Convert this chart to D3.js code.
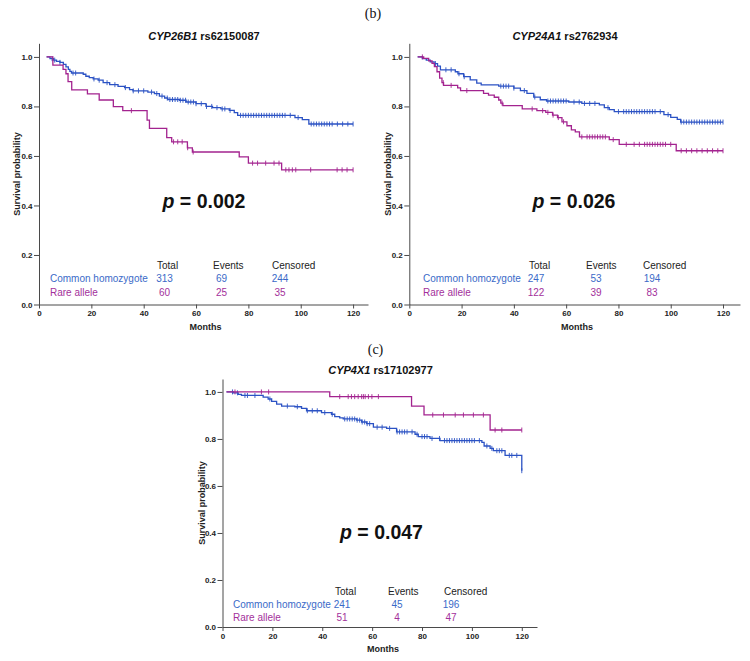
<!DOCTYPE html>
<html>
<head>
<meta charset="utf-8">
<script src="https://cdn.jsdelivr.net/npm/d3@7"></script>
<style>
  html, body { margin: 0; padding: 0; background: #ffffff; }
  svg { display: block; font-family: "Liberation Sans", Arial, sans-serif; }
</style>
</head>
<body>
<svg id="chart" width="750" height="661"></svg>
<script>
// ---------------- DATA ----------------
const groups = ["Common homozygote", "Rare allele"];
const tableHeaders = ["Total", "Events", "Censored"];
const xTicks = [0, 20, 40, 60, 80, 100, 120];
const yTicks = [0, 0.2, 0.4, 0.6, 0.8, 1.0];
const yTickLabels = ["0.0", "0.2", "0.4", "0.6", "0.8", "1.0"];
const panelLabels = ["(b)", "(c)"];

const chartGenes = ["CYP26B1", "CYP24A1", "CYP4X1"];
const chartSnps = ["rs62150087", "rs2762934", "rs17102977"];
const chartPValues = ["0.002", "0.026", "0.047"];

// CYP26B1 rs62150087
const cyp26b1CommonCounts = [313, 69, 244];
const cyp26b1RareCounts = [60, 25, 35];
const cyp26b1CommonTimes = [2.9, 4.2, 5.5, 6.7, 8.0, 9.3, 10.3, 11.2, 11.8, 12.4, 16.9, 17.9, 19.2, 20.7, 22.6, 24.5, 27.0, 30.2, 32.7, 34.6, 35.9, 41.6, 44.1, 46.0, 48.0, 49.2, 53.7, 56.2, 60.0, 63.8, 66.3, 69.5, 72.7, 74.6, 75.9, 97.8, 100.6, 103.1];
const cyp26b1CommonSurv  = [1.0, 0.993, 0.987, 0.982, 0.978, 0.970, 0.960, 0.950, 0.942, 0.935, 0.930, 0.922, 0.916, 0.911, 0.906, 0.896, 0.888, 0.881, 0.876, 0.868, 0.863, 0.858, 0.852, 0.842, 0.834, 0.828, 0.825, 0.818, 0.811, 0.800, 0.795, 0.790, 0.784, 0.775, 0.764, 0.755, 0.747, 0.729];
const cyp26b1CommonCensor = [5, 6, 8, 13, 14, 21, 23, 26, 29, 33, 36, 38, 40, 43, 45, 47, 49, 50, 51, 52, 53, 54, 55, 56, 57, 58, 59, 60, 62, 64, 66, 68, 70, 71, 73, 77, 78, 79, 80, 81, 82, 83, 84, 85, 86, 87, 88, 89, 90, 91, 92, 93, 94, 96, 99, 104, 105, 106, 107, 108, 109, 110, 111, 112, 114, 116, 118, 120];
const cyp26b1RareTimes = [2.9, 5.3, 9.2, 10.3, 11.1, 12.5, 18.5, 23.0, 28.4, 32.0, 41.3, 42.2, 48.8, 50.7, 56.7, 58.6, 76.5, 80.0, 92.7];
const cyp26b1RareSurv  = [1.0, 0.967, 0.950, 0.932, 0.900, 0.867, 0.851, 0.826, 0.799, 0.783, 0.745, 0.711, 0.674, 0.657, 0.633, 0.616, 0.596, 0.571, 0.544];
const cyp26b1RareCensor = [35.3, 51.4, 53.0, 54.7, 56.8, 58.9, 81.6, 83.5, 86.6, 89.8, 91.7, 94.3, 95.5, 96.8, 98.1, 103.8, 113.9, 115.8, 117.7, 120];

// CYP24A1 rs2762934
const cyp24a1CommonCounts = [247, 53, 194];
const cyp24a1RareCounts = [122, 39, 83];
const cyp24a1CommonTimes = [3.2, 5.0, 6.5, 8.0, 9.5, 10.8, 11.9, 17.6, 18.6, 20.8, 23.3, 25.8, 27.5, 34.2, 40.0, 42.5, 45.0, 47.6, 50.1, 52.5, 61.0, 66.0, 72.7, 74.6, 76.5, 78.4, 97.4, 100.0, 102.5, 103.8];
const cyp24a1CommonSurv  = [1.0, 0.993, 0.987, 0.980, 0.973, 0.963, 0.948, 0.940, 0.932, 0.920, 0.907, 0.894, 0.887, 0.882, 0.874, 0.864, 0.853, 0.838, 0.827, 0.822, 0.818, 0.812, 0.806, 0.795, 0.787, 0.779, 0.767, 0.756, 0.748, 0.737];
const cyp24a1CommonCensor = [10, 14, 16, 19, 21, 35, 36, 37, 38, 40, 44, 48, 53, 54, 55, 56, 57, 58, 59, 60, 63, 65, 67, 69, 71, 76, 80, 82, 83, 84, 85, 86, 87, 88, 89, 90, 91, 92, 93, 94, 96, 99, 104, 105, 106, 107, 108, 109, 110, 111, 112, 113, 114, 115, 116, 117, 118, 119, 120];
const cyp24a1RareTimes = [3.2, 5.5, 7.4, 8.7, 9.6, 10.6, 11.6, 12.5, 13.1, 18.5, 19.6, 28.4, 30.3, 32.5, 34.2, 35.0, 35.8, 43.2, 48.8, 52.2, 54.8, 56.7, 58.4, 60.3, 62.0, 63.5, 65.1, 76.5, 80.3, 102.1];
const cyp24a1RareSurv  = [1.0, 0.994, 0.984, 0.974, 0.961, 0.940, 0.914, 0.896, 0.885, 0.875, 0.864, 0.853, 0.846, 0.837, 0.826, 0.813, 0.803, 0.790, 0.783, 0.776, 0.765, 0.755, 0.738, 0.722, 0.705, 0.697, 0.677, 0.666, 0.647, 0.621];
const cyp24a1RareCensor = [5, 13, 16, 22, 35.5, 47, 51, 53, 55, 57, 59, 66, 68, 69, 70, 71, 72, 73, 74, 75, 78, 83, 86, 88, 90, 91, 92, 93, 94, 95, 96, 97, 98, 100, 104, 106, 108, 110, 112, 114, 116, 118, 120];

// CYP4X1 rs17102977
const cyp4x1CommonCounts = [241, 45, 196];
const cyp4x1RareCounts = [51, 4, 47];
const cyp4x1CommonTimes = [1.6, 4.3, 6.3, 7.6, 16.3, 18.3, 19.7, 21.7, 23.7, 29.0, 31.7, 33.7, 39.7, 43.7, 45.0, 47.0, 48.4, 53.8, 55.8, 57.8, 60.5, 65.8, 69.8, 77.2, 78.5, 83.2, 87.2, 104.0, 104.9, 107.3, 108.6, 113.3, 120.0];
const cyp4x1CommonSurv  = [1.0, 0.996, 0.990, 0.985, 0.978, 0.970, 0.960, 0.948, 0.940, 0.937, 0.930, 0.920, 0.912, 0.905, 0.895, 0.890, 0.885, 0.880, 0.872, 0.865, 0.850, 0.845, 0.830, 0.820, 0.810, 0.802, 0.793, 0.785, 0.770, 0.760, 0.750, 0.730, 0.665];
const cyp4x1CommonCensor = [4, 6, 9, 10, 13, 19, 26, 30, 34, 36, 38, 41, 44, 49, 50, 51, 52, 53, 54, 55, 56, 57, 58, 59, 62, 64, 67, 70, 71, 72, 73, 74, 76, 78, 80, 81, 82, 84, 87, 89, 90, 91, 92, 93, 94, 95, 96, 97, 98, 99, 100, 101, 103, 106, 108, 110, 111, 112, 115, 116, 118, 120];
const cyp4x1RareTimes = [1.6, 43.0, 75.8, 80.8, 107.3];
const cyp4x1RareSurv  = [1.0, 0.980, 0.940, 0.902, 0.838];
const cyp4x1RareCensor = [5, 15.6, 18.5, 47, 50.4, 51.7, 53, 54.4, 55.8, 56.5, 57.2, 58.5, 59.9, 62.5, 84.3, 88.6, 93.3, 96.6, 100.6, 104.6, 109.3, 112, 120];

// ---------------- STYLE / LAYOUT ----------------
const lineColors = ["#2b52c4", "#a3238f"];
const textColors = ["#3a6ac8", "#a3309b"];
const axisColor = "#4a4a4a";

const charts = [
  { gene: 0, counts: [cyp26b1CommonCounts, cyp26b1RareCounts],
    series: [[cyp26b1CommonTimes, cyp26b1CommonSurv, cyp26b1CommonCensor], [cyp26b1RareTimes, cyp26b1RareSurv, cyp26b1RareCensor]],
    x0: 39, x1: 368, xMax: 125.7, y0: 304.5, y1: 43.3, yMax: 1.055,
    titleX: 204, titleY: 40, pX: 204, pY: 208, monthsX: 205.5, monthsY: 330,
    ylabX: 20, ylabY: 174,
    tLabel: 50, tHdr: [157, 213, 272], tNum: [164.5, 221.5, 280], tY: [269, 282, 295.5] },
  { gene: 1, counts: [cyp24a1CommonCounts, cyp24a1RareCounts],
    series: [[cyp24a1CommonTimes, cyp24a1CommonSurv, cyp24a1CommonCensor], [cyp24a1RareTimes, cyp24a1RareSurv, cyp24a1RareCensor]],
    x0: 409.3, x1: 740, xMax: 126.5, y0: 304.5, y1: 43.3, yMax: 1.055,
    titleX: 565, titleY: 40, pX: 574, pY: 208, monthsX: 577, monthsY: 330,
    ylabX: 391, ylabY: 174,
    tLabel: 423, tHdr: [529, 586, 643], tNum: [536, 596, 652], tY: [269, 282, 295.5] },
  { gene: 2, counts: [cyp4x1CommonCounts, cyp4x1RareCounts],
    series: [[cyp4x1CommonTimes, cyp4x1CommonSurv, cyp4x1CommonCensor], [cyp4x1RareTimes, cyp4x1RareSurv, cyp4x1RareCensor]],
    x0: 222.5, x1: 537, xMax: 126.1, y0: 627, y1: 379, yMax: 1.055,
    titleX: 380.5, titleY: 374, pX: 381.5, pY: 539, monthsX: 383, monthsY: 652,
    ylabX: 205, ylabY: 503,
    tLabel: 233, tHdr: [335, 388, 444], tNum: [342, 397, 451], tY: [594.5, 607.5, 620.5] }
];

const svg = d3.select("#chart");
svg.append("rect").attr("width", 750).attr("height", 661).attr("fill", "#fff");

// panel labels
svg.append("text").attr("x", 373).attr("y", 18).attr("text-anchor", "middle")
  .attr("font-family", "'Liberation Serif', 'DejaVu Serif', serif").attr("font-size", 14)
  .attr("fill", "#111").text(panelLabels[0]);
svg.append("text").attr("x", 375.5).attr("y", 354).attr("text-anchor", "middle")
  .attr("font-family", "'Liberation Serif', 'DejaVu Serif', serif").attr("font-size", 14)
  .attr("fill", "#111").text(panelLabels[1]);

function survAt(times, surv, t) {
  let s = surv[0];
  for (let i = 0; i < times.length; i++) { if (times[i] <= t) s = surv[i]; }
  return s;
}

charts.forEach(c => {
  const x = d3.scaleLinear().domain([0, c.xMax]).range([c.x0, c.x1]);
  const y = d3.scaleLinear().domain([0, c.yMax]).range([c.y0, c.y1]);
  const g = svg.append("g");

  // axes
  const xAxis = d3.axisBottom(x).tickValues(xTicks).tickSize(4).tickSizeOuter(0).tickPadding(2)
    .tickFormat(d3.format("d"));
  const gx = g.append("g").attr("transform", `translate(0,${c.y0})`).call(xAxis);
  const yAxis = d3.axisLeft(y).tickValues(yTicks).tickSize(5).tickSizeOuter(0).tickPadding(1.5)
    .tickFormat((d, i) => yTickLabels[i]);
  const gy = g.append("g").attr("transform", `translate(${c.x0},0)`).call(yAxis);
  [gx, gy].forEach(a => {
    a.select(".domain").attr("stroke", axisColor).attr("stroke-width", 1);
    a.selectAll(".tick line").attr("stroke", axisColor);
    a.selectAll(".tick text").attr("fill", "#222").attr("font-size", 8).attr("font-weight", "bold")
      .attr("font-family", "'Liberation Sans', Arial, sans-serif");
  });

  // axis titles
  g.append("text").attr("x", c.monthsX).attr("y", c.monthsY).attr("text-anchor", "middle")
    .attr("font-size", 9).attr("font-weight", "bold").attr("fill", "#222").text("Months");
  g.append("text").attr("transform", `translate(${c.ylabX},${c.ylabY}) rotate(-90)`)
    .attr("text-anchor", "middle").attr("font-size", 9).attr("font-weight", "bold")
    .attr("fill", "#222").text("Survival probability");

  // title
  const t = g.append("text").attr("x", c.titleX).attr("y", c.titleY).attr("text-anchor", "middle")
    .attr("font-size", 11).attr("font-weight", "bold").attr("fill", "#111");
  t.append("tspan").attr("font-style", "italic").text(chartGenes[c.gene]);
  t.append("tspan").text(" " + chartSnps[c.gene]);

  // p value
  const p = g.append("text").attr("x", c.pX).attr("y", c.pY).attr("text-anchor", "middle")
    .attr("font-size", 19.5).attr("font-weight", "bold").attr("fill", "#111");
  p.append("tspan").attr("font-style", "italic").text("p");
  p.append("tspan").text(" = " + chartPValues[c.gene]);

  // curves
  const line = d3.line().x(d => x(d[0])).y(d => y(d[1])).curve(d3.curveStepAfter);
  c.series.forEach((s, si) => {
    const [times, surv, cens] = s;
    const endT = Math.max(times[times.length - 1], d3.max(cens));
    const pts = times.map((tt, i) => [tt, surv[i]]);
    pts.push([endT, surv[surv.length - 1]]);
    g.append("path").datum(pts).attr("d", line).attr("fill", "none")
      .attr("stroke", lineColors[si]).attr("stroke-width", 1.3);
    g.selectAll(null).data(cens).enter().append("line")
      .attr("x1", d => x(d)).attr("x2", d => x(d))
      .attr("y1", d => y(survAt(times, surv, d)) - 2.5)
      .attr("y2", d => y(survAt(times, surv, d)) + 2.5)
      .attr("stroke", lineColors[si]).attr("stroke-width", 0.9);
  });

  // table
  tableHeaders.forEach((h, i) => {
    g.append("text").attr("x", c.tHdr[i]).attr("y", c.tY[0]).attr("font-size", 10)
      .attr("fill", "#222").text(h);
  });
  groups.forEach((grp, gi) => {
    g.append("text").attr("x", c.tLabel).attr("y", c.tY[gi + 1]).attr("font-size", 10)
      .attr("fill", textColors[gi]).text(grp);
    c.counts[gi].forEach((v, vi) => {
      g.append("text").attr("x", c.tNum[vi]).attr("y", c.tY[gi + 1]).attr("font-size", 10)
        .attr("text-anchor", "middle").attr("fill", textColors[gi]).text(v);
    });
  });
});
</script>
</body>
</html>
